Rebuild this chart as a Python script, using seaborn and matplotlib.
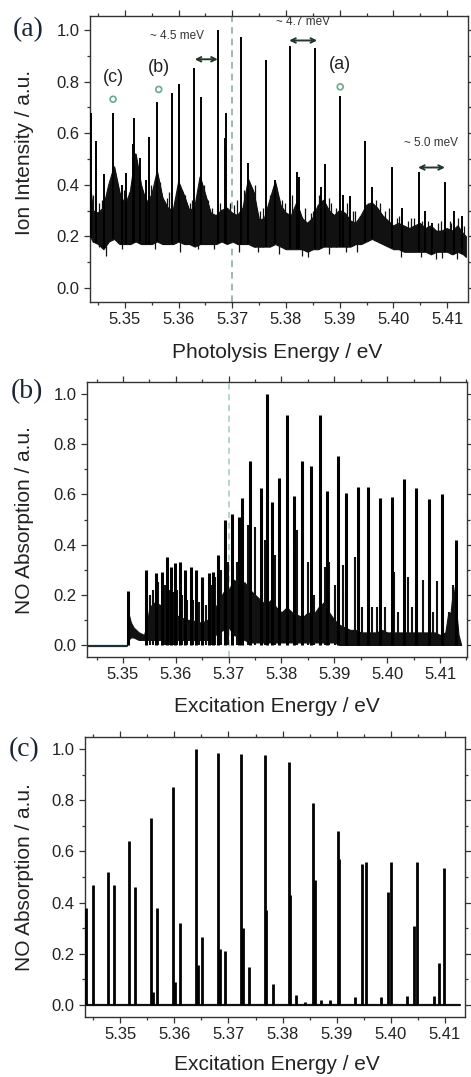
import numpy as np
import matplotlib
matplotlib.use("Agg")
import matplotlib.pyplot as plt
from matplotlib.ticker import MultipleLocator, FormatStrFormatter
import seaborn as sns

sns.set_style("ticks")
plt.rcParams['font.family'] = ['Liberation Sans', 'DejaVu Sans']

# ---- (a) photolysis spectrum: noisy background band + sharp lines
a_x = [5.3435, 5.344, 5.345, 5.346, 5.347, 5.348, 5.349, 5.350, 5.351, 5.352,
       5.353, 5.354, 5.355, 5.356, 5.357, 5.358, 5.359, 5.360, 5.361, 5.362,
       5.363, 5.364, 5.365, 5.366, 5.367, 5.368, 5.369, 5.370, 5.371, 5.372,
       5.373, 5.374, 5.375, 5.376, 5.377, 5.378, 5.379, 5.380, 5.381, 5.382,
       5.383, 5.384, 5.385, 5.386, 5.387, 5.388, 5.389, 5.390, 5.391, 5.392,
       5.393, 5.394, 5.395, 5.396, 5.397, 5.398, 5.399, 5.400, 5.401, 5.402,
       5.403, 5.404, 5.405, 5.406, 5.407, 5.408, 5.409, 5.410, 5.411, 5.412,
       5.413, 5.4135]
a_hi = [0.41, 0.30, 0.29, 0.31, 0.40, 0.47, 0.37, 0.32, 0.37, 0.52,
        0.40, 0.33, 0.36, 0.45, 0.35, 0.31, 0.30, 0.41, 0.36, 0.30,
        0.31, 0.43, 0.36, 0.29, 0.28, 0.30, 0.31, 0.29, 0.28, 0.31,
        0.42, 0.37, 0.26, 0.27, 0.34, 0.41, 0.32, 0.29, 0.28, 0.33,
        0.27, 0.25, 0.27, 0.32, 0.34, 0.30, 0.28, 0.30, 0.29, 0.26,
        0.25, 0.28, 0.32, 0.33, 0.31, 0.28, 0.26, 0.24, 0.25, 0.24,
        0.23, 0.24, 0.25, 0.23, 0.24, 0.22, 0.22, 0.23, 0.22, 0.24,
        0.21, 0.20]
a_lo = [0.20, 0.18, 0.17, 0.15, 0.18, 0.19, 0.17, 0.17, 0.17, 0.18,
        0.17, 0.17, 0.17, 0.18, 0.17, 0.17, 0.17, 0.18, 0.17, 0.17,
        0.16, 0.17, 0.17, 0.17, 0.17, 0.18, 0.17, 0.18, 0.17, 0.17,
        0.17, 0.16, 0.16, 0.16, 0.16, 0.17, 0.16, 0.15, 0.15, 0.15,
        0.15, 0.14, 0.15, 0.15, 0.16, 0.16, 0.16, 0.16, 0.16, 0.16,
        0.17, 0.17, 0.18, 0.19, 0.18, 0.17, 0.16, 0.15, 0.15, 0.14,
        0.14, 0.14, 0.14, 0.14, 0.13, 0.14, 0.14, 0.14, 0.13, 0.14,
        0.13, 0.12]
a_line_x = [5.3437, 5.3446, 5.3461, 5.3478, 5.3494, 5.3502, 5.3515, 5.3517,
            5.3528, 5.3539, 5.3545, 5.3560, 5.3587, 5.3601, 5.3629, 5.3642,
            5.3673, 5.3686, 5.3688, 5.3716, 5.3729, 5.3763, 5.3780, 5.3807,
            5.3820, 5.3824, 5.3854, 5.3866, 5.3873, 5.3901, 5.3907, 5.3919,
            5.3947, 5.3960, 5.3997, 5.4016, 5.4047, 5.4058, 5.4072, 5.4096,
            5.4113, 5.4127]
a_line_y = [0.68, 0.57, 0.44, 0.68, 0.40, 0.445, 0.56, 0.66,
            0.505, 0.42, 0.585, 0.72, 0.755, 0.79, 0.855, 0.74,
            1.00, 0.58, 0.68, 0.975, 0.485, 0.885, 0.42, 0.94,
            0.45, 0.43, 0.93, 0.39, 0.48, 0.745, 0.36, 0.355,
            0.57, 0.39, 0.47, 0.31, 0.45, 0.30, 0.25, 0.41,
            0.30, 0.28]
# small spikes that make the background look ragged
a_spike_x = [5.3441, 5.3452, 5.3457, 5.3468, 5.3483, 5.3488, 5.3498, 5.3508,
             5.3512, 5.3524, 5.3534, 5.3549, 5.3553, 5.3565, 5.3570, 5.3578,
             5.3583, 5.3594, 5.3606, 5.3612, 5.3621, 5.3625, 5.3635, 5.3648,
             5.3655, 5.3662, 5.3678, 5.3695, 5.3703, 5.3708, 5.3721, 5.3735,
             5.3738, 5.3743, 5.3752, 5.3757, 5.3771, 5.3776, 5.3793, 5.3799,
             5.3812, 5.3835, 5.3846, 5.3851, 5.3861, 5.3880, 5.3884, 5.3893,
             5.3913, 5.3925, 5.3929, 5.3938, 5.3953, 5.3968, 5.3975, 5.3985,
             5.3991, 5.4006, 5.4011, 5.4027, 5.4033, 5.4038, 5.4053, 5.4065,
             5.4083, 5.4088, 5.4105, 5.4108, 5.4120, 5.4132]
a_spike_y = [0.36, 0.33, 0.34, 0.36, 0.42, 0.35, 0.38, 0.37,
             0.40, 0.36, 0.36, 0.40, 0.34, 0.41, 0.33, 0.35,
             0.37, 0.34, 0.38, 0.36, 0.33, 0.34, 0.35, 0.40,
             0.34, 0.31, 0.33, 0.33, 0.32, 0.34, 0.38, 0.35,
             0.34, 0.40, 0.30, 0.31, 0.36, 0.33, 0.34, 0.33,
             0.36, 0.31, 0.29, 0.30, 0.36, 0.35, 0.33, 0.31,
             0.33, 0.30, 0.30, 0.28, 0.33, 0.34, 0.33, 0.30,
             0.31, 0.27, 0.28, 0.26, 0.27, 0.27, 0.26, 0.26,
             0.25, 0.26, 0.26, 0.25, 0.27, 0.24]
# deeper dips below the band
a_dip_x = [5.3451, 5.3465, 5.3495, 5.3556, 5.3602, 5.3636, 5.3666, 5.3712,
           5.3748, 5.3787, 5.3829, 5.3841, 5.3881, 5.3911, 5.3933, 5.4015,
           5.4052, 5.4079, 5.4091, 5.4119]
a_dip_y = [0.16, 0.125, 0.15, 0.15, 0.14, 0.15, 0.15, 0.14,
           0.14, 0.13, 0.125, 0.12, 0.13, 0.14, 0.14, 0.12,
           0.12, 0.11, 0.115, 0.11]
a_mark_x = [5.3478, 5.3563, 5.3901]
a_mark_y = [0.732, 0.770, 0.780]
a_mark_label = ['(c)', '(b)', '(a)']

# ---- (b) measured NO absorption
b_flat_x = [5.3432, 5.3508]
b_flat_y = [-0.004, -0.004]
b_x = [5.3508, 5.3510, 5.3515, 5.3520, 5.3530, 5.3540, 5.3545,
       5.355, 5.356, 5.357, 5.358, 5.359, 5.360, 5.361, 5.362, 5.363, 5.364,
       5.365, 5.366, 5.367, 5.368, 5.369, 5.370, 5.371, 5.372, 5.373, 5.374,
       5.375, 5.376, 5.377, 5.378, 5.379, 5.380, 5.381, 5.382, 5.383, 5.384,
       5.385, 5.386, 5.387, 5.388, 5.389, 5.390, 5.391, 5.392, 5.393, 5.394,
       5.395, 5.396, 5.397, 5.398, 5.399, 5.400, 5.401, 5.402, 5.403, 5.404,
       5.405, 5.406, 5.407, 5.408, 5.409, 5.410, 5.411,
       5.4115, 5.4120, 5.4125, 5.4130, 5.4135, 5.4140]
b_hi = [0.00, 0.13, 0.09, 0.07, 0.05, 0.04, 0.08,
        0.15, 0.17, 0.16, 0.15, 0.13, 0.12, 0.11, 0.10, 0.10, 0.09,
        0.09, 0.10, 0.13, 0.17, 0.21, 0.22, 0.26, 0.24, 0.25, 0.22,
        0.20, 0.18, 0.16, 0.18, 0.15, 0.13, 0.15, 0.13, 0.12, 0.11,
        0.13, 0.12, 0.15, 0.17, 0.13, 0.10, 0.08, 0.07, 0.06, 0.06,
        0.05, 0.05, 0.05, 0.05, 0.06, 0.05, 0.05, 0.05, 0.05, 0.05,
        0.05, 0.05, 0.05, 0.05, 0.05, 0.04, 0.05,
        0.12, 0.13, 0.23, 0.15, 0.04, 0.00]
b_lo = [0.00, 0.02, 0.03, 0.03, 0.02, 0.02, 0.02,
        0.02, 0.02, 0.02, 0.02, 0.02, 0.02, 0.02, 0.02, 0.02, 0.02,
        0.02, 0.02, 0.03, 0.05, 0.06, 0.07, 0.04, 0.03, 0.02, 0.01,
        0.01, 0.01, 0.01, 0.01, 0.01, 0.01, 0.01, 0.01, 0.01, 0.01,
        0.01, 0.01, 0.01, 0.01, 0.01, 0.01, 0.00, 0.00, 0.00, 0.00,
        0.00, 0.00, 0.00, 0.00, 0.00, 0.00, 0.00, 0.00, 0.00, 0.00,
        0.00, 0.00, 0.00, 0.00, 0.00, 0.00, 0.00,
        0.00, 0.00, 0.00, 0.00, 0.00, 0.00]
b_line_x = [5.3509, 5.3544, 5.3562, 5.3574, 5.3583, 5.3591, 5.3598, 5.3608,
            5.3617, 5.3628, 5.3638, 5.3650, 5.3663, 5.3671, 5.3679, 5.3693,
            5.3706, 5.3720, 5.3725, 5.3740, 5.3761, 5.3773, 5.3782, 5.3795,
            5.3811, 5.3824, 5.3839, 5.3855, 5.3872, 5.3887, 5.3906, 5.3923,
            5.3944, 5.3964, 5.3986, 5.4009, 5.4031, 5.4055, 5.4079, 5.4104,
            5.4130]
b_line_y = [0.215, 0.30, 0.285, 0.29, 0.35, 0.31, 0.325, 0.33,
            0.30, 0.31, 0.30, 0.27, 0.285, 0.29, 0.36, 0.50,
            0.52, 0.51, 0.585, 0.735, 0.625, 1.00, 0.57, 0.665,
            0.915, 0.595, 0.735, 0.715, 0.915, 0.615, 0.755, 0.605,
            0.63, 0.63, 0.585, 0.59, 0.66, 0.625, 0.58, 0.60,
            0.42]
b_sub_x = [5.3551, 5.3556, 5.3567, 5.3579, 5.3587, 5.3595, 5.3603, 5.3612,
           5.3622, 5.3633, 5.3644, 5.3657, 5.3667, 5.3675, 5.3686, 5.3699,
           5.3715, 5.3737, 5.3750, 5.3769, 5.3788, 5.3813, 5.3829, 5.3851,
           5.3862, 5.3882, 5.3890, 5.3901, 5.3916, 5.3922, 5.3939, 5.3953,
           5.3971, 5.3980, 5.3995, 5.4012, 5.4021, 5.4039, 5.4046, 5.4067,
           5.4087, 5.4095, 5.4116, 5.4124]
b_sub_y = [0.20, 0.22, 0.25, 0.24, 0.22, 0.21, 0.22, 0.20,
           0.18, 0.18, 0.17, 0.16, 0.24, 0.27, 0.30, 0.33,
           0.33, 0.48, 0.47, 0.42, 0.36, 0.39, 0.46, 0.33,
           0.20, 0.31, 0.33, 0.24, 0.32, 0.22, 0.35, 0.15,
           0.15, 0.15, 0.15, 0.29, 0.13, 0.27, 0.15, 0.26,
           0.13, 0.255, 0.13, 0.24]

# ---- (c) simulated NO absorption (stick spectrum)
c_base_x = [5.3435, 5.4128]
c_base_y = [0.0, 0.0]
c_line_x = [5.3437, 5.3450, 5.3477, 5.3488, 5.3517, 5.3528, 5.3557, 5.3561,
            5.3568, 5.3598, 5.3601, 5.3610, 5.3640, 5.3643, 5.3651, 5.3681,
            5.3684, 5.3694, 5.3724, 5.3727, 5.3738, 5.3767, 5.3770, 5.3782,
            5.3811, 5.3814, 5.3825, 5.3842, 5.3856, 5.3859, 5.3871, 5.3888,
            5.3902, 5.3905, 5.3934, 5.3947, 5.3954, 5.3982, 5.3994, 5.4000,
            5.4030, 5.4042, 5.4048, 5.4079, 5.4089, 5.4098]
c_line_y = [0.38, 0.47, 0.52, 0.47, 0.64, 0.46, 0.73, 0.05,
            0.38, 0.85, 0.09, 0.32, 1.00, 0.155, 0.265, 0.985,
            0.22, 0.21, 0.98, 0.30, 0.15, 0.975, 0.37, 0.08,
            0.95, 0.43, 0.04, 0.01, 0.79, 0.49, 0.02, 0.02,
            0.68, 0.57, 0.03, 0.55, 0.56, 0.03, 0.44, 0.56,
            0.035, 0.31, 0.56, 0.035, 0.165, 0.535]

W, H = 471, 1077
fig = plt.figure(figsize=(W / 100, H / 100), dpi=100)


def box(left, top, right, bottom):
    return [left / W, 1 - bottom / H, (right - left) / W, (bottom - top) / H]


ax_a = fig.add_axes(box(90, 16, 468, 302))
ax_b = fig.add_axes(box(87, 382, 467, 657))
ax_c = fig.add_axes(box(85, 737, 465, 1017))


def style(ax, xlim, ylim):
    ax.set_xlim(*xlim)
    ax.set_ylim(*ylim)
    ax.xaxis.set_major_locator(MultipleLocator(0.01))
    ax.xaxis.set_minor_locator(MultipleLocator(0.005))
    ax.yaxis.set_major_locator(MultipleLocator(0.2))
    ax.yaxis.set_minor_locator(MultipleLocator(0.1))
    ax.xaxis.set_major_formatter(FormatStrFormatter('%.2f'))
    ax.yaxis.set_major_formatter(FormatStrFormatter('%.1f'))
    ax.tick_params(which='both', direction='out', top=True, right=True,
                   color='#333333', width=0.9, labelsize=12, labelcolor='#222222')
    ax.tick_params(which='major', length=4)
    ax.tick_params(which='minor', length=2.5)
    for s in ax.spines.values():
        s.set_linewidth(1.0)
        s.set_color('#333333')
    ax.set_xlabel('')
    ax.set_ylabel('')


# panel (a)
ax = ax_a
ax.axvline(5.37, color='#8fb0a0', ls=(0, (4, 3)), lw=1.2, zorder=0)
ax.fill_between(a_x, a_lo, a_hi, color='#111111', lw=0.8, zorder=2)
sns.lineplot(x=a_x, y=a_hi, ax=ax, color='#111111', lw=0.8, estimator=None, zorder=2)
ax.vlines(a_dip_x, a_dip_y, np.interp(a_dip_x, a_x, a_hi), color='#111111', lw=0.9, zorder=3)
ax.vlines(a_spike_x, np.interp(a_spike_x, a_x, a_lo), a_spike_y, color='#111111', lw=0.9, zorder=3)
ax.vlines(a_line_x, np.interp(a_line_x, a_x, a_lo), a_line_y, color='#000000', lw=1.4, zorder=3)
ax.scatter(a_mark_x, a_mark_y, s=18, facecolors='none', edgecolors='#6aaa8a', lw=1.2, zorder=4)
for mx, my, lab in zip(a_mark_x, a_mark_y, a_mark_label):
    ax.text(mx, my + 0.085, lab, ha='center', va='center', fontsize=13, color='#222222')
arrow = dict(arrowstyle='<->', color='#22382c', lw=1.4, mutation_scale=8, shrinkA=0, shrinkB=0)
ax.annotate('', xy=(5.3630, 0.887), xytext=(5.3673, 0.887), arrowprops=arrow)
ax.annotate('', xy=(5.3806, 0.960), xytext=(5.3858, 0.960), arrowprops=arrow)
ax.annotate('', xy=(5.4046, 0.467), xytext=(5.4096, 0.467), arrowprops=arrow)
ax.text(5.3597, 0.979, '~ 4.5 meV', ha='center', va='center', fontsize=8.5, color='#333333')
ax.text(5.3832, 1.033, '~ 4.7 meV', ha='center', va='center', fontsize=8.5, color='#333333', clip_on=False)
ax.text(5.4070, 0.563, '~ 5.0 meV', ha='center', va='center', fontsize=8.5, color='#333333')
style(ax, (5.3435, 5.4139), (-0.055, 1.055))

# panel (b)
ax = ax_b
ax.axvline(5.37, color='#a6c8c0', ls=(0, (4, 3)), lw=1.1, zorder=0)
sns.lineplot(x=b_flat_x, y=b_flat_y, ax=ax, color='#1c2f38', lw=1.6, estimator=None)
ax.fill_between(b_x, b_lo, b_hi, color='#111111', lw=0.8, zorder=2)
ax.vlines(b_sub_x, 0.0, b_sub_y, color='#111111', lw=1.5, zorder=3)
ax.vlines(b_line_x, 0.0, b_line_y, color='#000000', lw=2.2, zorder=3)
style(ax, (5.3432, 5.4151), (-0.048, 1.048))

# panel (c)
ax = ax_c
sns.lineplot(x=c_base_x, y=c_base_y, ax=ax, color='#111111', lw=1.6, estimator=None)
ax.vlines(c_line_x, 0.0, c_line_y, color='#000000', lw=2.0, zorder=3)
style(ax, (5.3435, 5.4137), (-0.047, 1.047))

# panel tags and axis titles
serif = ['Liberation Serif', 'DejaVu Serif']
for (px, py), tag in zip([(28, 30), (27, 392), (24, 750)], ['(a)', '(b)', '(c)']):
    fig.text(px / W, 1 - py / H, tag, ha='center', va='center', fontsize=20,
             family=serif, color='#1a2636')
for py, txt in zip([152, 520, 877],
                   ['Ion Intensity / a.u.', 'NO Absorption / a.u.', 'NO Absorption / a.u.']):
    fig.text(25 / W, 1 - py / H, txt, rotation=90, ha='center', va='center',
             fontsize=15, color='#222222')
for py, txt in zip([352, 707, 1064],
                   ['Photolysis Energy / eV', 'Excitation Energy / eV', 'Excitation Energy / eV']):
    fig.text(277 / W, 1 - py / H, txt, ha='center', va='center', fontsize=15, color='#222222')

fig.savefig('out.png', dpi=100)
